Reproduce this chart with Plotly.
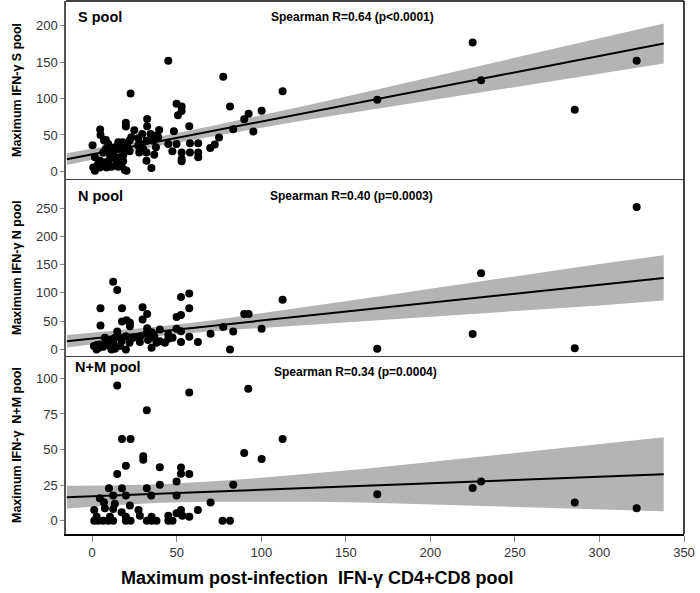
import plotly.graph_objects as go
from plotly.subplots import make_subplots

# ---------------- data ----------------
s_x = [45, 22.7, 77.5, 112.6, 81.5, 50.7, 49.9, 52.9, 52.9, 48.3, 57.4, 32.5, 32.5, 39.6, 34.5, 29.6, 37.8,
       19.9, 19.9, 24.9, 4.7, 4.9, 0.2, 8.1, 23.1, 18, 20.7, 27.2, 29.2, 32.1, 36.1, 39, 37.7, 32.1, 32.1,
       35, 36.7, 45, 49.9, 47.4, 52.9, 52.9, 52.9, 57.8, 57.8, 62.7, 62.7, 62.7, 69.8, 72.5, 75, 83.4, 89.9,
       92.5, 95.3, 100.2,
       0.6, 1.6, 2.6, 3.6, 4.5, 1.6, 6.5, 8.1, 10.5, 10.5, 10.5, 12.4, 13.4, 13.4, 14.4, 15.4, 16.4, 18.3,
       18.3, 17.4, 19.3, 20.3, 15.4, 11.4, 8.5, 7.5, 4.5, 22.1, 9.5, 9.5, 15.4, 18, 22.1, 7, 27.2, 30.2, 27.8,
       168.6, 225, 230, 285.4, 322]
s_y = [152, 107, 130, 110, 89, 77, 93, 89, 83, 55, 62, 72, 62, 57, 51.5, 51.5, 49,
       66.7, 61.6, 56.6, 57.5, 50, 36, 43, 47, 40, 37.7, 45.5, 36.8, 42, 42, 47, 33, 26, 14.7,
       4.6, 23, 37.7, 37.7, 27.6, 26, 17, 13.8, 38.6, 26, 38.6, 26, 19.3, 32, 36.8, 46.4, 58, 71.7,
       79, 54.7, 83.2,
       5.5, 1, 6.4, 11, 5.5, 19.3, 26, 31, 24, 17, 7, 26, 19.3, 33, 14.7, 40, 19.3, 21.6,
       13.8, 10, 1.8, 1, 6.4, 6.4, 5.5, 12.4, 14.7, 27.6, 33, 37.7, 30.8, 30.8, 42.3, 42.3, 35.4, 30.8, 26,
       98.4, 177, 125, 84.7, 151.8]

n_x = [12.4, 14.8, 4.9, 4.9, 17.6, 17.6, 20.3, 22.3, 22.3, 14.8, 29.8, 32.5, 29.8, 32.5, 40, 35.1, 32.1,
       28.6, 36.1, 40, 35.1, 45, 45, 47.5, 49.9, 52.5, 52.5, 57.4, 57.4, 49.9, 52.5, 57.4, 52.5, 62.5, 70,
       77.5, 83.4, 81.5, 89.9, 92.5, 100.2, 112.6,
       1, 2.6, 4.1, 2.6, 6.5, 8.5, 10.5, 11.4, 13.4, 12.4, 13.4, 15.4, 17.4, 19.9, 19.9, 22.1, 24.3, 28.2,
       27.8, 7.5, 9.5, 4.5, 16.4, 33, 36.7, 43, 38,
       168.6, 225, 230, 285.4, 322]
n_y = [119.5, 105, 72.6, 42.2, 72.6, 49.2, 51.6, 46.9, 41, 31.6, 74.4, 62.7, 52.7, 37.5, 35, 30.5, 28,
       23.4, 21, 14.6, 3, 26.4, 18.7, 20.5, 57.4, 61, 92.6, 99, 72.6, 36.3, 32.2, 22.3, 12.9, 12.9, 27.5,
       39.8, 31.6, 0, 62.7, 62.7, 36.3, 87.9,
       5.9, 0, 3, 7.6, 4.7, 11.7, 5.9, 0, 1.2, 11.7, 20.5, 23.4, 14.6, 0, 23.4, 11.7, 20.5, 12.9,
       20.5, 20.5, 16.4, 8.8, 5.9, 16.4, 23.4, 11.7, 11.7,
       1.2, 27, 134.8, 1.8, 252]

nm_x = [14.8, 57.4, 32.3, 92.3, 112.6, 17.6, 22.7, 89.9, 100.2, 30.2, 30.2, 19.9, 40, 52.5, 52.5, 57.4,
        14.8, 49.9, 40, 83.4, 9.9, 17.6, 32.3, 12.4, 19.9, 34.9, 49.9, 4.5, 6.9, 13.4, 22.3, 70, 7.5, 12.4,
        1.2, 17.4, 27.4, 52.5, 49.9, 62.5, 28.2, 45, 53.3, 57.4, 19.9,
        1.2, 3.6, 6.5, 9.5, 12.4, 19.9, 22.7, 32.3, 35.1, 38, 45, 47.5, 77.1, 81.5,
        2.6, 10.5, 35.1,
        168.6, 225, 230, 285.4, 322]
nm_y = [95, 90, 77.6, 92.7, 57.4, 57.4, 57.4, 47.5, 43.3, 45.2, 42.8, 38.6, 37.6, 37.4, 33, 32.7,
        32.7, 27.5, 25.2, 25.2, 22.8, 22.8, 22.8, 17.6, 17.6, 17.6, 17.6, 15.8, 12.9, 11.8, 10.6, 12.7, 8.7, 8.2,
        7.5, 5.9, 7.5, 7.5, 5.2, 7.5, 3.5, 3.5, 3.5, 2.8, 2.8,
        0, 0, 0, 0, 0, 0, 0, 0, 0, 0, 0, 0, 0, 0,
        2.8, 2.8, 2.8,
        18.6, 22.9, 27.5, 12.7, 8.7]

# regression lines and confidence bands
fit_x = [-15, 338]
s_fit = [16.75, 175.6]
n_fit = [14.5, 126.4]
nm_fit = [16.5, 32.6]

band_x = [-15, 10, 40, 70, 100, 130, 160, 200, 250, 300, 338]
s_lo = [8.75, 20.9, 35.2, 47.9, 60, 71.8, 83.1, 97.8, 116.1, 134.3, 148.1]
s_hi = [24.75, 35.1, 47.8, 62.1, 77, 92.2, 107.9, 129.2, 155.9, 182.7, 203.1]
n_lo = [3.5, 13.1, 23.7, 31.9, 38.3, 44.5, 50.4, 58.2, 67.9, 77.7, 86.4]
n_hi = [25.5, 31.9, 40.3, 51.1, 63.7, 76.5, 89.6, 107.2, 129.3, 151.1, 166.4]
nm_lo = [8.5, 10.7, 12.5, 13.3, 13.5, 13.2, 12.7, 11.4, 9.7, 7.9, 6.6]
nm_hi = [24.5, 24.7, 25.5, 27.5, 30.1, 33.0, 36.3, 41.2, 47.5, 53.9, 58.6]

panel_names = ["S pool", "N pool", "N+M pool"]
stats = ["Spearman R=0.64 (p<0.0001)", "Spearman R=0.40 (p=0.0003)", "Spearman R=0.34 (p=0.0004)"]
y_titles = ["Maximum IFN-γ S pool", "Maximum IFN-γ N pool", "Maximum IFN-γ  N+M pool"]
x_title = "Maximum post-infection  IFN-γ CD4+CD8 pool"
x_ticks = [0, 50, 100, 150, 200, 250, 300, 350]
y_ticks = [[0, 50, 100, 150, 200], [0, 50, 100, 150, 200, 250], [0, 25, 50, 75, 100]]
y_ranges = [[-10, 234], [-12.3, 302], [-9.4, 115.5]]

# ---------------- figure ----------------
W, H = 700, 593
L, R, T, B = 66, 16, 1, 59
fig = make_subplots(rows=3, cols=1, shared_xaxes=True, vertical_spacing=0)

panels = [(s_x, s_y, s_fit, s_lo, s_hi), (n_x, n_y, n_fit, n_lo, n_hi), (nm_x, nm_y, nm_fit, nm_lo, nm_hi)]
for i, (px, py, fy, lo, hi) in enumerate(panels):
    r = i + 1
    fig.add_trace(go.Scatter(x=band_x + band_x[::-1], y=hi + lo[::-1], fill="toself",
                             fillcolor="#b4b4b4", line=dict(width=0), mode="lines",
                             hoverinfo="skip", showlegend=False), row=r, col=1)
    fig.add_trace(go.Scatter(x=fit_x, y=fy, mode="lines", line=dict(color="black", width=2),
                             showlegend=False), row=r, col=1)
    fig.add_trace(go.Scatter(x=px, y=py, mode="markers",
                             marker=dict(color="black", size=8, line=dict(width=0)),
                             showlegend=False), row=r, col=1)

tick_font = dict(family="Liberation Sans, Arial", size=13, color="#333")
for i in range(3):
    r = i + 1
    fig.update_yaxes(range=y_ranges[i], tickvals=y_ticks[i], ticks="outside", ticklen=4,
                     tickcolor="#888", showgrid=False, zeroline=False, showline=True,
                     linecolor="#555", linewidth=1.5, tickfont=tick_font, row=r, col=1)
    fig.update_xaxes(range=[-15.5, 350], tickvals=x_ticks, showgrid=False, zeroline=False,
                     showline=True, linecolor="black" if r == 3 else "#444",
                     linewidth=1.5 if r == 3 else 1.2, mirror=False,
                     ticks="outside" if r == 3 else "", ticklen=6, tickcolor="#888",
                     showticklabels=(r == 3), tickfont=tick_font, row=r, col=1)

pw = W - L - R
ph = H - T - B

def pxx(x):
    return (x - L) / pw

def pxy(y):
    return (H - B - y) / ph

bold = "Liberation Sans Narrow, Arial Narrow, Liberation Sans"
ann = []
name_pos = [(76, 17), (76, 196), (73, 367)]
stat_pos = [(352, 17), (351, 196), (355, 372)]
ytitle_pos = [90, 268, 445]
for i in range(3):
    ann.append(dict(text="<b>%s</b>" % panel_names[i], x=pxx(name_pos[i][0]), y=pxy(name_pos[i][1]),
                    xref="paper", yref="paper", xanchor="left", yanchor="middle", showarrow=False,
                    font=dict(family=bold, size=14.5, color="black")))
    ann.append(dict(text="<b>%s</b>" % stats[i], x=pxx(stat_pos[i][0]), y=pxy(stat_pos[i][1]),
                    xref="paper", yref="paper", xanchor="center", yanchor="middle", showarrow=False,
                    font=dict(family=bold, size=12, color="black")))
    ann.append(dict(text="<b>%s</b>" % y_titles[i], x=pxx(17), y=pxy(ytitle_pos[i]),
                    xref="paper", yref="paper", xanchor="center", yanchor="middle", showarrow=False,
                    textangle=-90, font=dict(family=bold, size=12.5, color="black")))
ann.append(dict(text="<b>%s</b>" % x_title, x=pxx(317), y=pxy(578), xref="paper", yref="paper",
                xanchor="center", yanchor="middle", showarrow=False,
                font=dict(family=bold, size=18, color="black")))

fig.update_layout(width=W, height=H, margin=dict(l=L, r=R, t=T, b=B),
                  plot_bgcolor="white", paper_bgcolor="white", annotations=ann,
                  shapes=[dict(type="line", xref="paper", yref="paper", x0=1, x1=1, y0=0, y1=1,
                               line=dict(color="black", width=1.5)),
                          dict(type="line", xref="paper", yref="paper", x0=0, x1=1, y0=1, y1=1,
                               line=dict(color="black", width=1.5))])
fig.write_html("out.html", config={"displayModeBar": False},
               post_script="document.body.style.margin='0';document.body.style.padding='0';")
